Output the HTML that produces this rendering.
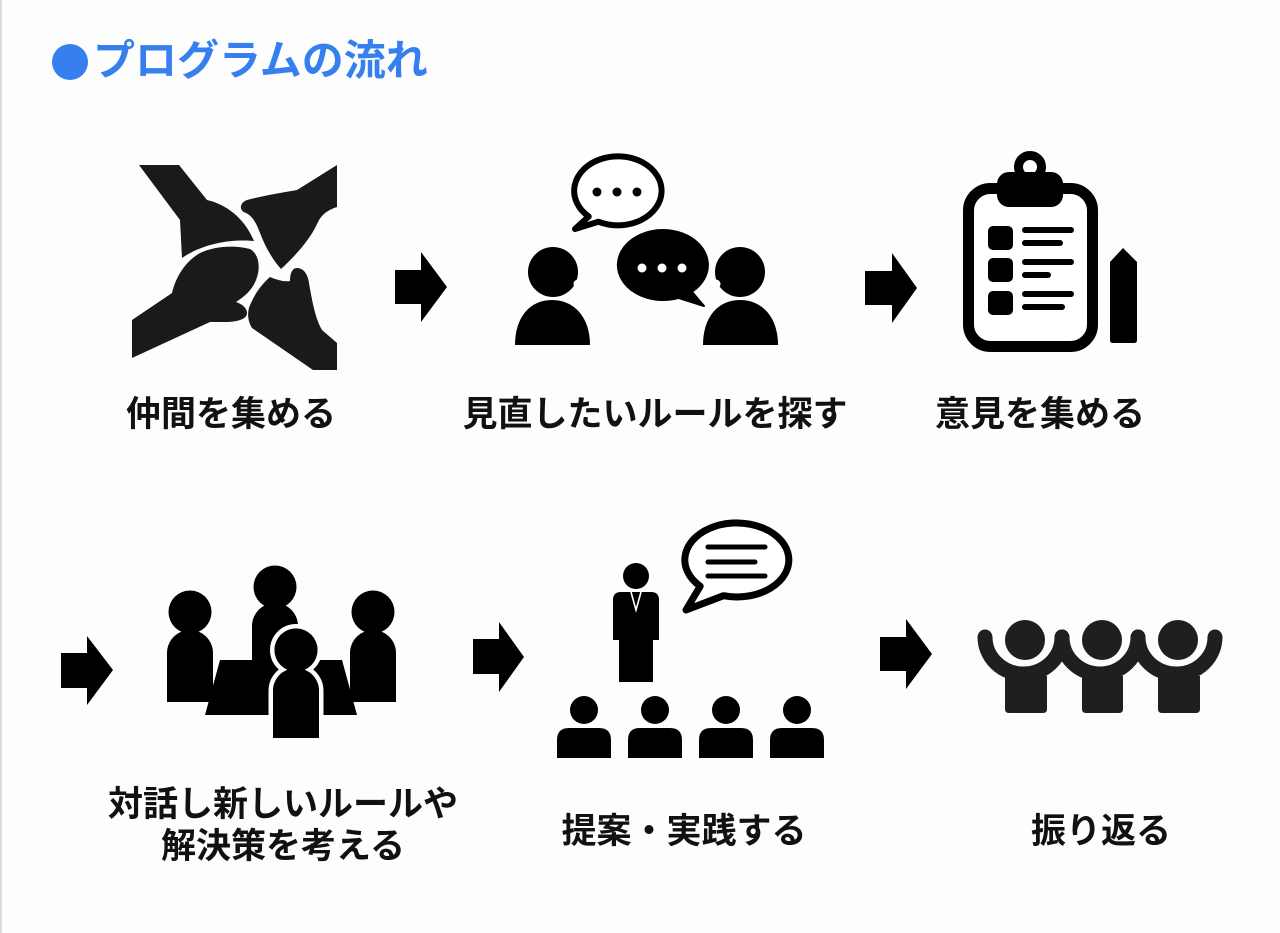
<!DOCTYPE html>
<html>
<head>
<meta charset="utf-8">
<style>
html,body{margin:0;padding:0;}
body{width:1280px;height:933px;background:#fdfdfd;position:relative;overflow:hidden;font-family:"Liberation Sans","Noto Sans CJK JP",sans-serif;}
.lb{position:absolute;left:0;top:0;width:2px;height:933px;background:#dcdcdc;}
.title{position:absolute;left:93px;top:38px;font-size:42px;line-height:46px;font-weight:bold;color:#3580ee;white-space:nowrap;}
.dot{position:absolute;left:52px;top:44px;width:36px;height:36px;border-radius:50%;background:#3580ee;}
.t{position:absolute;font-size:35px;line-height:42px;font-weight:bold;color:#111;white-space:nowrap;text-align:center;width:500px;}
svg{position:absolute;left:0;top:0;}
</style>
</head>
<body>
<div class="lb"></div>
<div class="dot"></div>
<div class="title">プログラムの流れ</div>

<svg width="1280" height="933" viewBox="0 0 1280 933">
  <!-- arrows -->
  <g fill="#000">
    <polygon points="395,270 421,270 421,252 447,287 421,322 421,304 395,304"/>
    <polygon points="865,271 892,271 892,253 917,288 892,323 892,305 865,305"/>
    <polygon points="61,653 87,653 87,636 113,670 87,705 87,688 61,688"/>
    <polygon points="473,639 499,639 499,622 524,657 499,692 499,674 473,674"/>
    <polygon points="880,637 906,637 906,619 932,654 906,689 906,671 880,671"/>
  </g>

  <!-- icon 1: hands -->
  <g fill="#1c1a18">
    <path d="M139,165 L179,165 L207,200 C225,204 244,217 254,241 C235,239 205,242 182,258 L180,220 Z"/>
    <path d="M337,165 L337,207 C328,210 322,214 318,222 C310,240 295,256 281,269 C272,259 265,246 260,233 C256,222 252,216 246,213 C239,211 239,203 247,200 C262,196 280,193 297,190 Z"/>
    <path d="M132,320 L172,293 C176,276 186,261 200,253 C215,246 235,245 250,249 C259,254 261,268 256,280 C253,288 247,295 236,302 C242,304 247,308 247,313 C247,318 241,321 229,322 L210,322 L132,358 Z"/>
    <path d="M297,268 C304,268 308,275 309,283 C312,300 315,318 322,330 L337,343 L337,370 L313,370 L252,328 C247,320 247,310 251,303 C256,292 262,284 270,277 C277,280 284,282 290,281 C290,274 292,268 297,268 Z"/>
  </g>

  <!-- icon 2: conversation -->
  <g>
    <path d="M598.4,221.7 A43.7,34.5 0 1 0 588.7,216.5 L575,229 Z" fill="#fff" stroke="#000" stroke-width="6" stroke-linejoin="round"/>
    <circle cx="597" cy="192" r="4.5" fill="#000"/>
    <circle cx="617" cy="192" r="4.5" fill="#000"/>
    <circle cx="637" cy="192" r="4.5" fill="#000"/>
    <path d="M691.9,291.8 A45,35 0 1 0 678.4,297.9 L704,306 Z" fill="#000" stroke="#000" stroke-width="2" stroke-linejoin="round"/>
    <circle cx="642" cy="268" r="4.5" fill="#fff"/>
    <circle cx="662" cy="268" r="4.5" fill="#fff"/>
    <circle cx="682" cy="268" r="4.5" fill="#fff"/>
    <circle cx="553" cy="272" r="25" fill="#000"/>
    <circle cx="578" cy="284" r="4.5" fill="#fff"/>
    <path d="M515,345 C515,317 530,300 552,300 C574,300 590,317 590,345 Z" fill="#000"/>
    <circle cx="740" cy="272" r="25" fill="#000"/>
    <circle cx="716" cy="284" r="4.5" fill="#fff"/>
    <path d="M703,345 C703,317 718,300 740,300 C762,300 778,317 778,345 Z" fill="#000"/>
  </g>

  <!-- icon 3: clipboard -->
  <g>
    <rect x="968.5" y="188.5" width="124" height="158" rx="22" fill="#fff" stroke="#000" stroke-width="11"/>
    <circle cx="1030" cy="167" r="11.5" fill="none" stroke="#000" stroke-width="9"/>
    <rect x="997" y="172" width="66" height="35" rx="12" fill="#000"/>
    <rect x="988" y="226" width="25" height="24" rx="5" fill="#000"/>
    <rect x="988" y="258" width="25" height="24" rx="5" fill="#000"/>
    <rect x="988" y="291" width="25" height="24" rx="5" fill="#000"/>
    <g stroke="#000" stroke-width="6" stroke-linecap="round">
      <line x1="1025" y1="230" x2="1071" y2="230"/>
      <line x1="1025" y1="243" x2="1060" y2="243"/>
      <line x1="1025" y1="262" x2="1071" y2="262"/>
      <line x1="1025" y1="275" x2="1048" y2="275"/>
      <line x1="1025" y1="294" x2="1071" y2="294"/>
      <line x1="1025" y1="307" x2="1062" y2="307"/>
    </g>
    <path d="M1110,262 L1123,248 L1137,262 L1137,340 Q1137,343 1134,343 L1113,343 Q1110,343 1110,340 Z" fill="#000"/>
  </g>

  <!-- icon 4: meeting -->
  <g fill="#000">
    <circle cx="275" cy="587" r="21.5"/>
    <path d="M252,660 L252,626 A23,23 0 0 1 298,626 L298,660 Z"/>
    <polygon points="220,660 342,660 357,715 205,715"/>
    <circle cx="190" cy="612" r="21.5"/>
    <path d="M167,702 L167,653 A23,23 0 0 1 213,653 L213,702 Z"/>
    <circle cx="373" cy="612" r="21.5"/>
    <path d="M350,702 L350,653 A23,23 0 0 1 396,653 L396,702 Z"/>
    <g stroke="#fdfdfd" stroke-width="9" paint-order="stroke">
      <path d="M273,738 L273,691 A23,23 0 0 1 319,691 L319,738 Z"/>
      <circle cx="296" cy="650" r="21.5"/>
    </g>
    <path d="M273,738 L273,691 A23,23 0 0 1 319,691 L319,738 Z"/>
    <circle cx="296" cy="650" r="21.5"/>
  </g>

  <!-- icon 5: presentation -->
  <g>
    <circle cx="636" cy="576" r="13" fill="#000"/>
    <path d="M613,640 L613,600 Q613,592 621,592 L651,592 Q659,592 659,600 L659,640 Z" fill="#000"/>
    <rect x="619" y="638" width="34" height="44" fill="#000"/>
    <polyline points="631,592 636,610 641,592" fill="none" stroke="#fff" stroke-width="1.6"/>
    <path d="M723.5,595.7 A52,37 0 1 0 700.2,586.2 L686,610 Z" fill="#fff" stroke="#000" stroke-width="7" stroke-linejoin="round"/>
    <g stroke="#000" stroke-width="5" stroke-linecap="round">
      <line x1="708" y1="547" x2="765" y2="547"/>
      <line x1="708" y1="562" x2="755" y2="562"/>
      <line x1="708" y1="576" x2="765" y2="576"/>
    </g>
    <g fill="#000">
      <circle cx="584" cy="710" r="14"/>
      <path d="M557,758 L557,740 Q557,728 569,728 L599,728 Q611,728 611,740 L611,758 Z"/>
      <circle cx="655" cy="710" r="14"/>
      <path d="M628,758 L628,740 Q628,728 640,728 L670,728 Q682,728 682,740 L682,758 Z"/>
      <circle cx="726" cy="710" r="14"/>
      <path d="M699,758 L699,740 Q699,728 711,728 L741,728 Q753,728 753,740 L753,758 Z"/>
      <circle cx="797" cy="710" r="14"/>
      <path d="M770,758 L770,740 Q770,728 782,728 L812,728 Q824,728 824,740 L824,758 Z"/>
    </g>
  </g>

  <!-- icon 6: cheering -->
  <g fill="#1f1f1f">
    <circle cx="1025" cy="640" r="20"/>
    <circle cx="1102" cy="640" r="20"/>
    <circle cx="1178" cy="640" r="20"/>
    <path d="M1005,676 L1047,676 L1047,709 Q1047,713 1043,713 L1009,713 Q1005,713 1005,709 Z"/>
    <path d="M1082,676 L1123,676 L1123,709 Q1123,713 1119,713 L1086,713 Q1082,713 1082,709 Z"/>
    <path d="M1158,676 L1200,676 L1200,709 Q1200,713 1196,713 L1162,713 Q1158,713 1158,709 Z"/>
    <g fill="none" stroke="#1f1f1f" stroke-width="15" stroke-linecap="round">
      <path d="M985,637 A38.5,37 0 0 0 1062,637"/>
      <path d="M1062,637 A38,37 0 0 0 1138,637"/>
      <path d="M1138,637 A38.5,37 0 0 0 1215,637"/>
    </g>
  </g>
</svg>

<div class="t" style="left:-19px;top:394px;">仲間を集める</div>
<div class="t" style="left:405px;top:394px;">見直したいルールを探す</div>
<div class="t" style="left:790px;top:394px;">意見を集める</div>
<div class="t" style="left:33px;top:784px;">対話し新しいルールや<br>解決策を考える</div>
<div class="t" style="left:434px;top:811px;">提案・実践する</div>
<div class="t" style="left:851px;top:811px;">振り返る</div>
</body>
</html>
